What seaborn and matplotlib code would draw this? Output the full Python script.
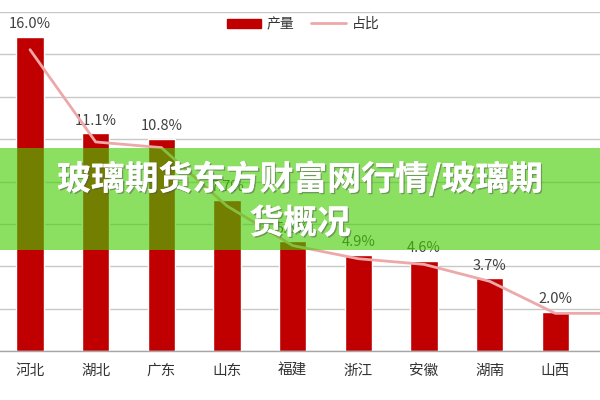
import numpy as np
import pandas as pd
import matplotlib
matplotlib.use("Agg")
import matplotlib.pyplot as plt
import seaborn as sns
from matplotlib.patches import Rectangle
from matplotlib.lines import Line2D
import matplotlib.patheffects as pe

# ---- data ----
provinces = ["河北", "湖北", "广东", "山东", "福建", "浙江", "安徽", "湖南", "山西", "其他"]
output = [16.0, 11.1, 10.8, 7.7, 5.6, 4.9, 4.6, 3.7, 2.0, 2.0]      # 产量 (relative)
share = [16.0, 11.1, 10.8, 7.7, 5.6, 4.9, 4.6, 3.7, 2.0, 2.0]       # 占比 (%)
legend_labels = ["产量", "占比"]
banner_lines = ["玻璃期货东方财富网行情/玻璃期", "货概况"]

sns.set_style("white")
plt.rcParams["font.family"] = ["Noto Sans CJK SC", "DejaVu Sans"]

df = pd.DataFrame({"province": provinces, "output": output, "share": share})

fig = plt.figure(figsize=(6, 4), dpi=100)
ax = fig.add_axes([0, 0.1225, 1, 0.8475])

bar_color = "#C00000"
line_color = "#EDA9A9"

sns.barplot(data=df, x="province", y="output", color=bar_color, saturation=1,
            width=0.42, ax=ax, zorder=2)

ymax = 17.27
ax.set_ylim(0, ymax)
ax.set_xlim(-0.457, 8.68)
ax.set_yticks(np.linspace(0, ymax, 9))
ax.set_yticklabels([])
ax.tick_params(axis="y", length=0)
ax.tick_params(axis="x", length=0, pad=9, labelsize=10.5, labelcolor="#333333")
ax.grid(axis="y", color="#C8C8C8", linewidth=1.0, zorder=0)
ax.set_axisbelow(True)
for s in ["left", "right", "top"]:
    ax.spines[s].set_visible(False)
ax.spines["bottom"].set_color("#A6A6A6")
ax.spines["bottom"].set_linewidth(1.0)
ax.set_xlabel("")
ax.set_ylabel("")

ax.bar_label(ax.containers[0], labels=[f"{v:.1f}%" for v in share],
             padding=4, fontsize=10.5, color="#404040")

ax2 = ax.twinx()
sns.lineplot(x=np.arange(len(share)), y=share, color=line_color, linewidth=2.0,
             ax=ax2, zorder=3)
ax2.set_ylim(0, 18.0)
ax2.set_yticks([])
for s in ["left", "right", "top", "bottom"]:
    ax2.spines[s].set_visible(False)
ax2.set_xlim(-0.457, 8.68)

handles = [Rectangle((0, 0), 1, 1, color=bar_color),
           Line2D([0], [0], color=line_color, linewidth=2.0)]
fig.legend(handles, legend_labels, loc="center", bbox_to_anchor=(0.505, 0.94),
           ncol=2, frameon=False, fontsize=10, handlelength=2.5,
           handleheight=0.6, columnspacing=1.2, handletextpad=0.4,
           labelcolor="#333333")

# banner overlay
banner = Rectangle((0, 1 - 250 / 400), 1, (250 - 148) / 400, transform=fig.transFigure,
                   facecolor=(68 / 255, 206 / 255, 0), alpha=0.62, zorder=10,
                   edgecolor="none")
fig.add_artist(banner)
shadow = [pe.withSimplePatchShadow(offset=(1, -1), shadow_rgbFace="#555555", alpha=0.5),
          pe.Normal()]
fig.text(0.5, 1 - 179 / 400, banner_lines[0], ha="center", va="center",
         fontsize=24.3, fontweight="bold", color="white", zorder=11, path_effects=shadow)
fig.text(0.5, 1 - 223 / 400, banner_lines[1], ha="center", va="center",
         fontsize=24.3, fontweight="bold", color="white", zorder=11, path_effects=shadow)

fig.savefig("out.png", dpi=100)
